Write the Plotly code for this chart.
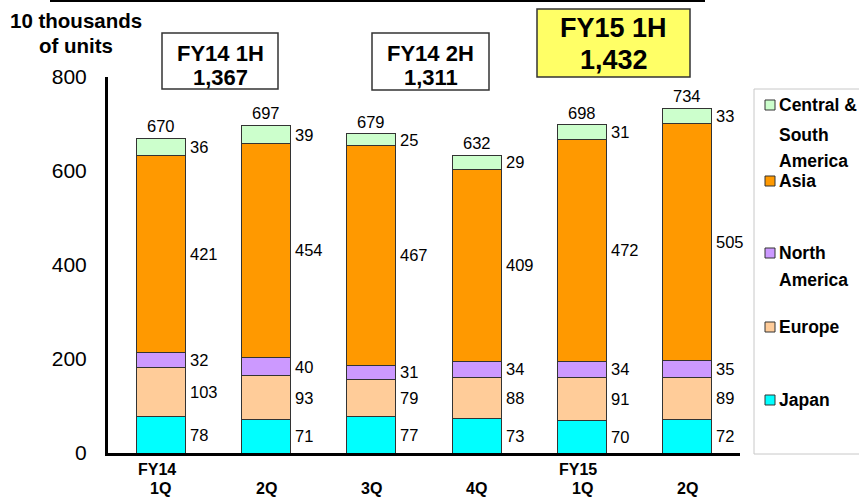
import plotly.graph_objects as go

# Unit sales by region, 10 thousands of units
quarters = ["FY14 1Q", "FY14 2Q", "FY14 3Q", "FY14 4Q", "FY15 1Q", "FY15 2Q"]
year_labels = ["FY14", "", "", "", "FY15", ""]
quarter_labels = ["1Q", "2Q", "3Q", "4Q", "1Q", "2Q"]
japan = [78, 71, 77, 73, 70, 72]
europe = [103, 93, 79, 88, 91, 89]
north_america = [32, 40, 31, 34, 34, 35]
asia = [421, 454, 467, 409, 472, 505]
central_south_america = [36, 39, 25, 29, 31, 33]
totals = [670, 697, 679, 632, 698, 734]
half_titles = ["FY14 1H", "FY14 2H", "FY15 1H"]
half_totals = ["1,367", "1,311", "1,432"]

FONT = "Liberation Sans, Arial, sans-serif"
W, H = 859, 498
L, R, T, B = 108, 119, 77, 45
PW, PH = W - L - R, H - T - B


def px(x):
    return (x - L) / PW


def py(y):
    return (H - B - y) / PH


series = [
    ("Japan", japan, "#00FFFF"),
    ("Europe", europe, "#FFCC99"),
    ("North America", north_america, "#CC99FF"),
    ("Asia", asia, "#FF9900"),
    ("Central & South America", central_south_america, "#CCFFCC"),
]

fig = go.Figure()
for name, vals, color in series:
    fig.add_trace(go.Bar(
        x=quarters, y=vals, name=name, width=0.465,
        marker=dict(color=color, line=dict(color="#333333", width=1)),
        showlegend=False, hoverinfo="skip",
    ))

annotations = []
shapes = []

# segment value labels, right of each segment
base = [0] * len(quarters)
for name, vals, color in series:
    for i, v in enumerate(vals):
        annotations.append(dict(
            x=quarters[i], y=base[i] + v / 2, xref="x", yref="y",
            text=str(v), showarrow=False, xanchor="left", yanchor="middle",
            xshift=27, font=dict(family=FONT, size=16.5, color="black"),
        ))
        base[i] += v

# totals above bars
for i, t in enumerate(totals):
    annotations.append(dict(
        x=quarters[i], y=base[i], xref="x", yref="y", text=str(t),
        showarrow=False, xanchor="center", yanchor="bottom", yshift=1,
        font=dict(family=FONT, size=16.5, color="black"),
    ))

# two-line category labels under the axis
for i, q in enumerate(quarters):
    for txt, yy, dx in ((year_labels[i], 469, -4), (quarter_labels[i], 488, 0)):
        if txt:
            annotations.append(dict(
                x=q, y=py(yy), xref="x", yref="paper", text=txt,
                showarrow=False, xanchor="center", yanchor="middle", xshift=dx,
                font=dict(family=FONT, size=16, color="black", weight="bold"),
            ))

# half-year summary boxes
boxes = [
    (162, 33, 278, 89, "white", 22, (53, 77)),
    (372, 33, 489, 90, "white", 22, (53, 77)),
    (537, 9, 690, 77, "#FFFF66", 27, (28, 60)),
]
for (x0, y0, x1, y1, fill, fsize, ys), title, total in zip(boxes, half_titles, half_totals):
    shapes.append(dict(type="rect", xref="paper", yref="paper",
                       x0=px(x0), x1=px(x1), y0=py(y1), y1=py(y0),
                       fillcolor=fill, line=dict(color="#333333", width=1.5),
                       layer="below"))
    cx = px((x0 + x1) / 2)
    for txt, yy in zip((title, total), ys):
        annotations.append(dict(
            x=cx, y=py(yy), xref="paper", yref="paper", text=txt,
            showarrow=False, xanchor="center", yanchor="middle",
            font=dict(family=FONT, size=fsize, color="black", weight="bold"),
        ))

# axis unit title
for txt, yy in (("10 thousands", 21), ("of units", 45)):
    annotations.append(dict(
        x=px(76), y=py(yy), xref="paper", yref="paper", text=txt,
        showarrow=False, xanchor="center", yanchor="middle",
        font=dict(family=FONT, size=20.5, color="black", weight="bold"),
    ))

# rule across the top
shapes.append(dict(type="line", xref="paper", yref="paper",
                   x0=px(50), x1=px(705), y0=py(1), y1=py(1),
                   line=dict(color="black", width=2)))

# legend
shapes.append(dict(type="rect", xref="paper", yref="paper",
                   x0=px(754), x1=px(875), y0=py(454), y1=py(89),
                   line=dict(color="#C8C8C8", width=1), fillcolor="rgba(0,0,0,0)"))
legend_items = [
    ("Central & South America", [("Central &", 105), ("South", 135), ("America", 161)]),
    ("Asia", [("Asia", 181)]),
    ("North America", [("North", 253), ("America", 280)]),
    ("Europe", [("Europe", 327)]),
    ("Japan", [("Japan", 400)]),
]
colors = {n: c for n, _, c in series}
for name, lines in legend_items:
    sy = lines[0][1]
    shapes.append(dict(type="rect", xref="paper", yref="paper",
                       x0=px(765), x1=px(775), y0=py(sy + 5), y1=py(sy - 5),
                       fillcolor=colors[name], line=dict(color="#333333", width=1)))
    for txt, yy in lines:
        annotations.append(dict(
            x=px(777), y=py(yy), xref="paper", yref="paper", text=txt,
            showarrow=False, xanchor="left", yanchor="middle",
            font=dict(family=FONT, size=17.5, color="black", weight="bold"),
        ))

fig.update_layout(
    barmode="stack",
    width=W, height=H,
    margin=dict(l=L, r=R, t=T, b=B, pad=0, autoexpand=False),
    paper_bgcolor="white", plot_bgcolor="white",
    font=dict(family=FONT, color="black"),
    annotations=annotations, shapes=shapes,
    xaxis=dict(
        tickmode="array", tickvals=quarters, showticklabels=False,
        showline=True, linecolor="black", linewidth=3, showgrid=False,
        ticks="", range=[-0.5, 5.5], fixedrange=True, automargin=False,
    ),
    yaxis=dict(
        range=[0, 800], tickvals=[0, 200, 400, 600, 800],
        tickfont=dict(family=FONT, size=21, color="black"),
        showline=True, linecolor="black", linewidth=3, showgrid=False,
        zeroline=False, ticks="", ticklabelstandoff=14, fixedrange=True,
        automargin=False,
    ),
)

fig.write_html("out.html")
